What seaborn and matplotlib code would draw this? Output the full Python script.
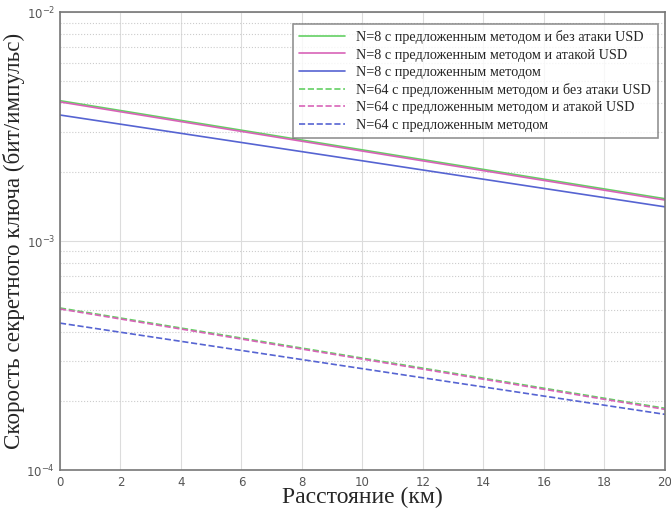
import numpy as np
import pandas as pd
import matplotlib
matplotlib.use("Agg")
import matplotlib.pyplot as plt
import seaborn as sns
from matplotlib.ticker import LogLocator, NullFormatter

distance_km = [0, 10, 20]
n8_no_attack = [4.10e-3, 2.50e-3, 1.53e-3]
n8_attack = [4.05e-3, 2.47e-3, 1.51e-3]
n8_method = [3.55e-3, 2.24e-3, 1.41e-3]
n64_no_attack = [5.10e-4, 3.08e-4, 1.86e-4]
n64_attack = [5.05e-4, 3.05e-4, 1.84e-4]
n64_method = [4.38e-4, 2.77e-4, 1.75e-4]

labels = [
    "N=8 с предложенным методом и без атаки USD",
    "N=8 с предложенным методом и атакой USD",
    "N=8 с предложенным методом",
    "N=64 с предложенным методом и без атаки USD",
    "N=64 с предложенным методом и атакой USD",
    "N=64 с предложенным методом",
]
series = [n8_no_attack, n8_attack, n8_method, n64_no_attack, n64_attack, n64_method]
colors = ["#63d063", "#d863b8", "#5664d2", "#63d063", "#d863b8", "#5664d2"]
styles = ["-", "-", "-", "--", "--", "--"]

sns.set_style("white")
fig = plt.figure(figsize=(6.71, 5.14), dpi=100)
ax = fig.add_axes([0.0894, 0.0856, 0.9016, 0.891])

for lab, vals, c, ls in zip(labels, series, colors, styles):
    df = pd.DataFrame({"d": distance_km, "v": vals})
    sns.lineplot(data=df, x="d", y="v", ax=ax, color=c, linestyle=ls,
                 linewidth=1.2, label=lab)

ax.set_yscale("log")
ax.set_xlim(0, 20)
ax.set_ylim(1e-4, 1e-2)
ax.set_xticks(range(0, 21, 2))
ax.yaxis.set_major_locator(LogLocator(base=10, numticks=5))
ax.yaxis.set_minor_locator(LogLocator(base=10, subs=np.arange(2, 10), numticks=20))
ax.yaxis.set_minor_formatter(NullFormatter())

ax.grid(True, which="major", axis="x", color="#dcdcdc", linewidth=0.8)
ax.grid(True, which="major", axis="y", color="#dcdcdc", linewidth=0.8)
ax.grid(True, which="minor", axis="y", color="#cccccc", linestyle=":", linewidth=0.8)

for s in ax.spines.values():
    s.set_color("#777777")
    s.set_linewidth(1.2)
ax.tick_params(axis="both", which="both", direction="in", colors="#777777",
               labelcolor="#555555", labelsize=8.5)
ax.tick_params(axis="both", which="major", length=5)
ax.tick_params(axis="y", which="minor", length=3)
ax.tick_params(axis="x", which="major", pad=4)

ax.set_xlabel("Расстояние (км)", family="Liberation Serif", fontsize=17, labelpad=-1)
ax.set_ylabel("Скорость секретного ключа (бит/импульс)", family="Liberation Serif",
              fontsize=16.6)
ax.yaxis.set_label_coords(-0.058, 0.5)

leg = ax.legend(loc="upper right", prop={"family": "Liberation Serif", "size": 10.3},
                frameon=True, fancybox=False, edgecolor="#777777",
                handlelength=3.2, borderpad=0.45, labelspacing=0.3,
                bbox_to_anchor=(1.0, 0.99))
leg.get_frame().set_linewidth(1.2)

fig.savefig("out.png", dpi=100)
